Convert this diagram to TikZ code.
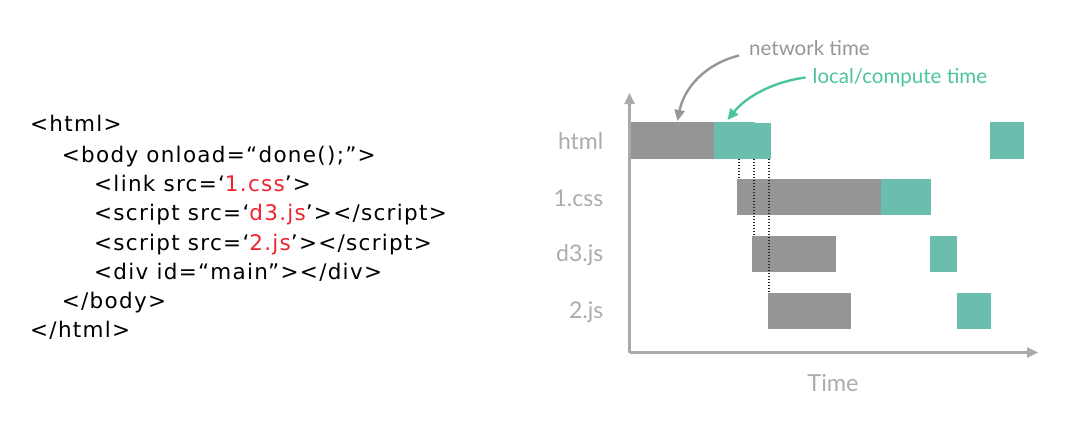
\documentclass[tikz,border=0pt]{standalone}
\usepackage{fontspec}
\setmainfont{Lato}
\newfontfamily\codefont[LetterSpace=6]{DejaVu Sans}
\usetikzlibrary{arrows.meta}
\definecolor{netgray}{RGB}{148,150,149}
\definecolor{cputeal}{RGB}{107,190,174}
\definecolor{axisgray}{RGB}{170,170,170}
\definecolor{labelgray}{RGB}{172,172,172}
\definecolor{notegray}{RGB}{150,150,150}
\definecolor{noteteal}{RGB}{76,196,157}
\definecolor{srcred}{RGB}{238,36,48}
\begin{document}
\begin{tikzpicture}[x=1pt,y=-1pt,
  code/.style={anchor=base west,inner sep=0,font=\codefont\fontsize{21.5}{24}\selectfont},
  bar/.style={inner sep=0,outer sep=0,anchor=north west,minimum height=36.4pt},
  netbar/.style={bar,fill=netgray},
  cpubar/.style={bar,fill=cputeal},
  rowlabel/.style={anchor=east,inner sep=0,text=labelgray,font=\fontsize{23}{26}\selectfont},
  axisline/.style={draw=axisgray,line width=2.4pt,-{Triangle[length=11pt,width=10pt]}},
  waitline/.style={draw=black!85,line width=1.6pt,dash pattern=on 1.5pt off 1.5pt},
  notelabel/.style={anchor=base west,inner sep=0,font=\fontsize{20.5}{24}\selectfont},
  noteline/.style={line width=2.4pt,-{Triangle[length=11pt,width=10pt]}}]
\useasboundingbox (0,0) rectangle (1065,431);

% page source
\node[code] (l1) at (30,131.7) {<html>};
\node[code] (l2) at (61.7,162.3) {<body onload=“done();”>};
\node[code] (l3) at (94,191.7) {<link src=‘\textcolor{srcred}{1.css}’>};
\node[code] (l4) at (94,220.7) {<script src=‘\textcolor{srcred}{d3.js}’></script>};
\node[code] (l5) at (94,250) {<script src=‘\textcolor{srcred}{2.js}’></script>};
\node[code] (l6) at (94,279) {<div id=“main”></div>};
\node[code] (l7) at (61.7,308.3) {</body>};
\node[code] (l8) at (30,337.3) {</html>};

% axes
\coordinate (origin) at (629.5,352.5);
\coordinate (ytip) at (629.5,93);
\coordinate (xtip) at (1038,352.5);
\draw[axisline] (origin) -- (ytip);
\draw[axisline] (origin) -- (xtip);
\node[anchor=base,inner sep=0,text=labelgray,font=\fontsize{23.5}{26}\selectfont] (time) at (833,391.7) {Time};

% html
\node[netbar,minimum width=83.7pt] (htmlnet) at (630.5,122.3) {};
\node[cpubar,minimum width=41.3pt] (htmlcpu) at (713.7,122.3) {};
\node[cpubar,minimum width=15.7pt,minimum height=35.4pt] (htmlcpub) at (755,123.3) {};
\node[cpubar,minimum width=34pt] (htmldone) at (990,122.3) {};
\node[rowlabel] (lhtml) at (603.5,141) {html};

% 1.css
\node[netbar,minimum width=144pt] (cssnet) at (737,179) {};
\node[cpubar,minimum width=50pt] (csscpu) at (881,179) {};
\node[rowlabel] (lcss) at (603.5,198) {1.css};

% d3.js
\node[netbar,minimum width=84pt] (dnet) at (752,236) {};
\node[cpubar,minimum width=27pt] (dcpu) at (930,236) {};
\node[rowlabel] (ld3) at (603.5,255) {d3.js};

% 2.js
\node[netbar,minimum width=83pt] (tnet) at (768,293) {};
\node[cpubar,minimum width=34pt] (tcpu) at (957,293) {};
\node[rowlabel] (l2js) at (603.5,312) {2.js};

% requests issued while parsing html
\draw[waitline] (htmlcpu.south -| 738.7,0) -- (cssnet.north -| 738.7,0);
\draw[waitline] (htmlcpu.south -| 753.7,0) -- (dnet.north -| 753.7,0);
\draw[waitline] (htmlcpub.south -| 768.7,0) -- (tnet.north -| 768.7,0);

% annotations
\node[notelabel,text=notegray] (nettxt) at (749,55) {network time};
\node[notelabel,text=noteteal] (cputxt) at (812.5,83) {local/compute time};
\coordinate (nettip) at (677.5,121);
\coordinate (cputip) at (727.5,120);
\draw[noteline,notegray] (nettxt.west |- 0,55.5) ++(-10,0) .. controls (705,64) and (684,88) .. (nettip);
\draw[noteline,noteteal] (cputxt.west |- 0,77.5) ++(-7,0) .. controls (772,82) and (746,97) .. (cputip);
\end{tikzpicture}
\end{document}
